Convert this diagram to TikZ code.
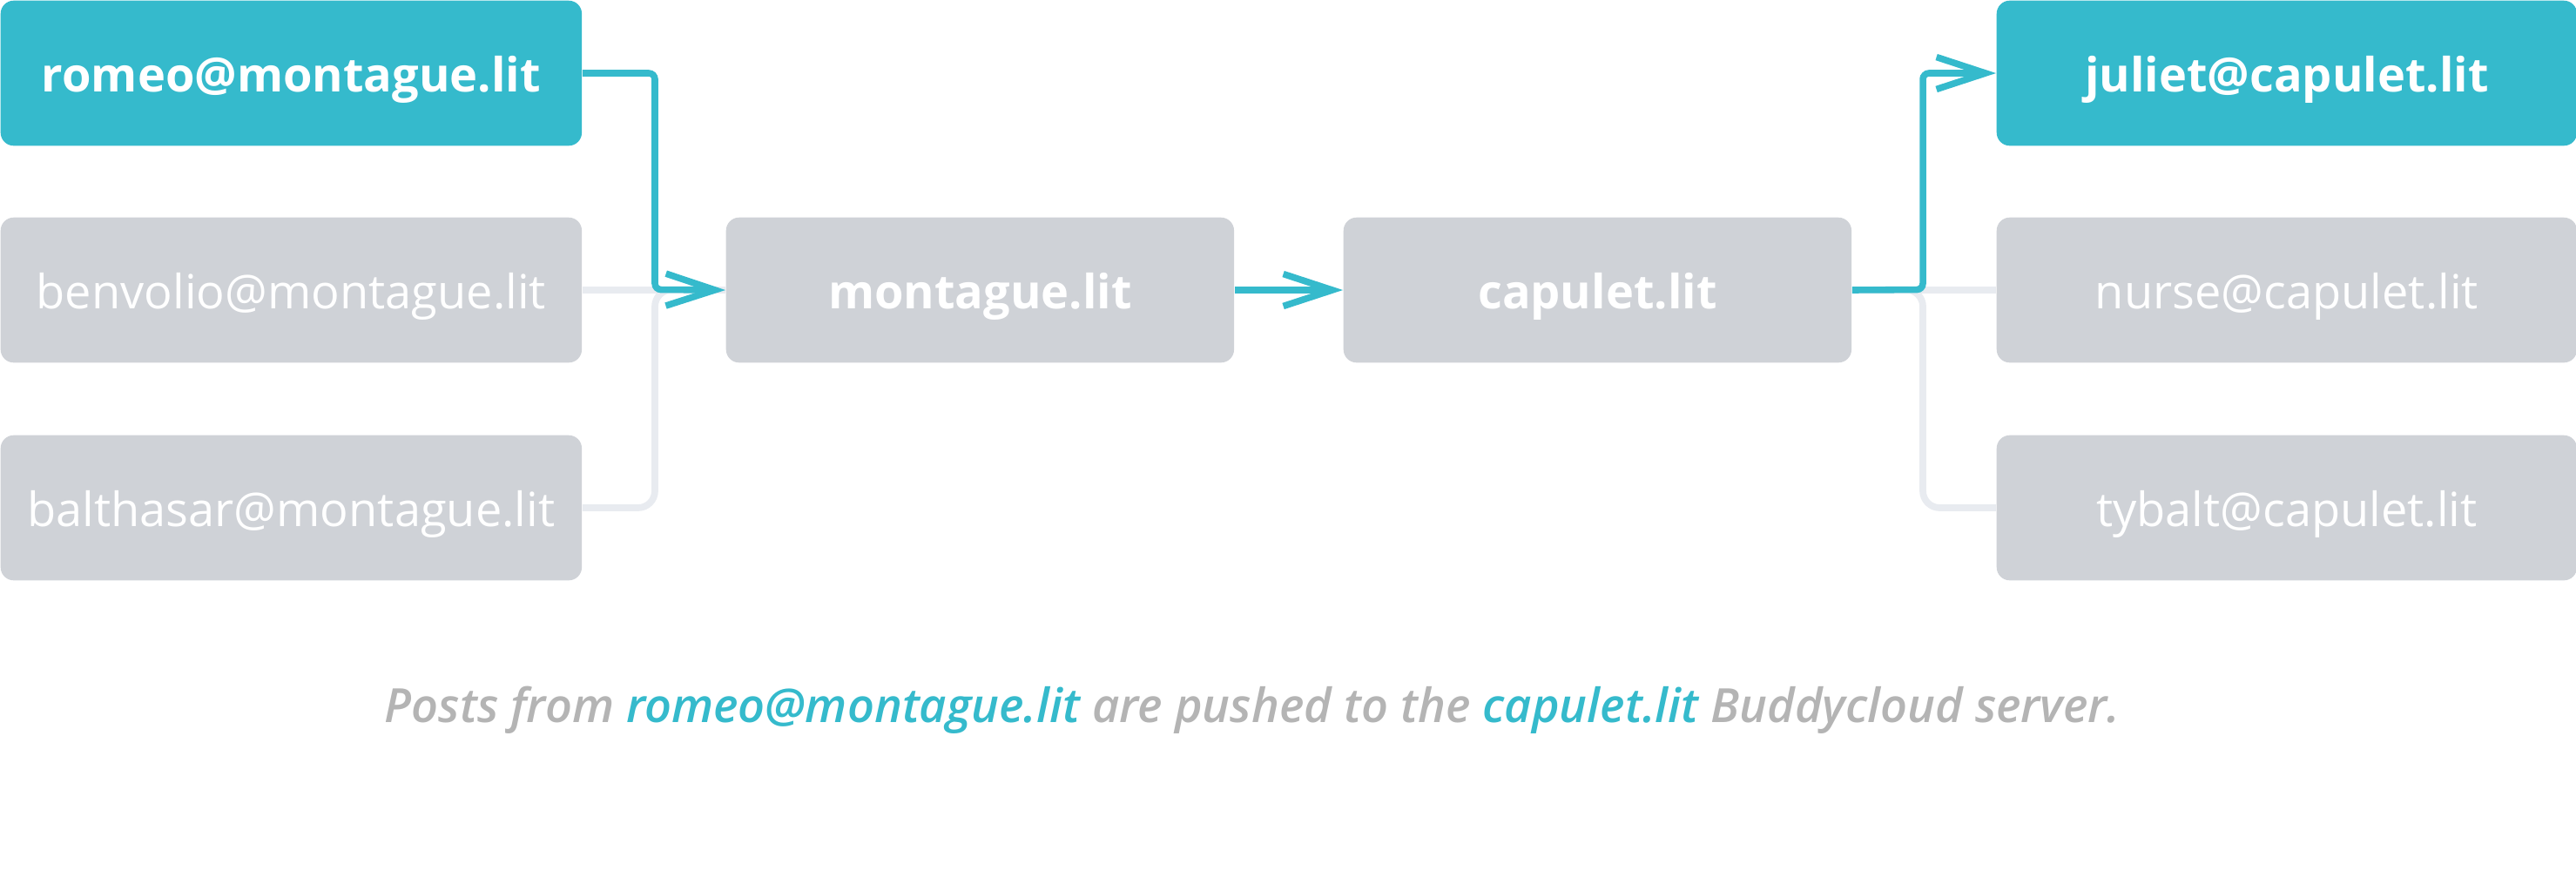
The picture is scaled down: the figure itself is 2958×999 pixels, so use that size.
\documentclass[tikz,border=0pt]{standalone}
\usepackage{fontspec}
\setmainfont{Open Sans}
\newfontfamily\capfont{Open Sans Semibold Italic}
\usetikzlibrary{arrows.meta}
\definecolor{teal1}{HTML}{35BACC}
\definecolor{boxgray}{HTML}{CFD2D7}
\definecolor{linegray}{HTML}{E8EBF0}
\definecolor{capgray}{HTML}{B4B4B4}
\begin{document}
\begin{tikzpicture}[x=0.01cm,y=-0.01cm,
  box/.style={rounded corners=0.15cm, inner sep=0pt, minimum height=1.665cm,
    anchor=north west, text=white, text height=0.5cm, text depth=0.08cm,
    font=\fontsize{15.4}{18}\selectfont},
  hot/.style={box, fill=teal1, font=\bfseries\fontsize{15.4}{18}\selectfont},
  cold/.style={box, fill=boxgray},
  srv/.style={box, fill=boxgray, font=\bfseries\fontsize{15.4}{18}\selectfont},
  link/.style={line width=2.15pt, draw=teal1, rounded corners=2pt,
    -{Straight Barb[length=16pt,width=10.5pt]}},
  faint/.style={line width=2.2pt, draw=linegray, rounded corners=5.5pt}]
\useasboundingbox (0,0) rectangle (2958,999);
% left column
\node[hot, minimum width=6.67cm] (romeo) at (0,0) {romeo@montague.lit};
\node[cold, minimum width=6.67cm] (benvolio) at (0,249) {benvolio@montague.lit};
\node[cold, minimum width=6.67cm] (balthasar) at (0,499) {balthasar@montague.lit};
% servers
\node[srv, minimum width=5.83cm] (mont) at (833,249) {montague.lit};
\node[srv, minimum width=5.83cm] (capu) at (1542,249) {capulet.lit};
% right column
\node[hot, minimum width=6.66cm] (juliet) at (2292,0) {juliet@capulet.lit};
\node[cold, minimum width=6.66cm] (nurse) at (2292,249) {nurse@capulet.lit};
\node[cold, minimum width=6.66cm] (tybalt) at (2292,499) {tybalt@capulet.lit};
% junctions
\coordinate (jl) at (752,332.5);
\coordinate (jr) at (2208,332.5);
% faint connectors
\draw[faint] (benvolio.east) -- (mont.west);
\draw[faint] (balthasar.east) -- (balthasar.east -| jl) -- (jl) -- (mont.west);
\draw[faint] (capu.east) -- (nurse.west);
\draw[faint] (capu.east) -- (jr) -- (jr |- tybalt.west) -- (tybalt.west);
% active path
\draw[link] (romeo.east) -- (romeo.east -| jl) -- (jl) -- (mont.west);
\draw[link] (mont.east) -- (capu.west);
\draw[link] (capu.east) -- (jr) -- (jr |- juliet.west) -- (juliet.west);
% caption
\node[anchor=base west, inner sep=0pt, text=capgray,
  font=\capfont\fontsize{15.4}{18}\selectfont] (caption) at (441,829)
  {Posts from \textcolor{teal1}{romeo@montague.lit} are pushed to the \textcolor{teal1}{capulet.lit} Buddycloud server.};
\end{tikzpicture}
\end{document}
